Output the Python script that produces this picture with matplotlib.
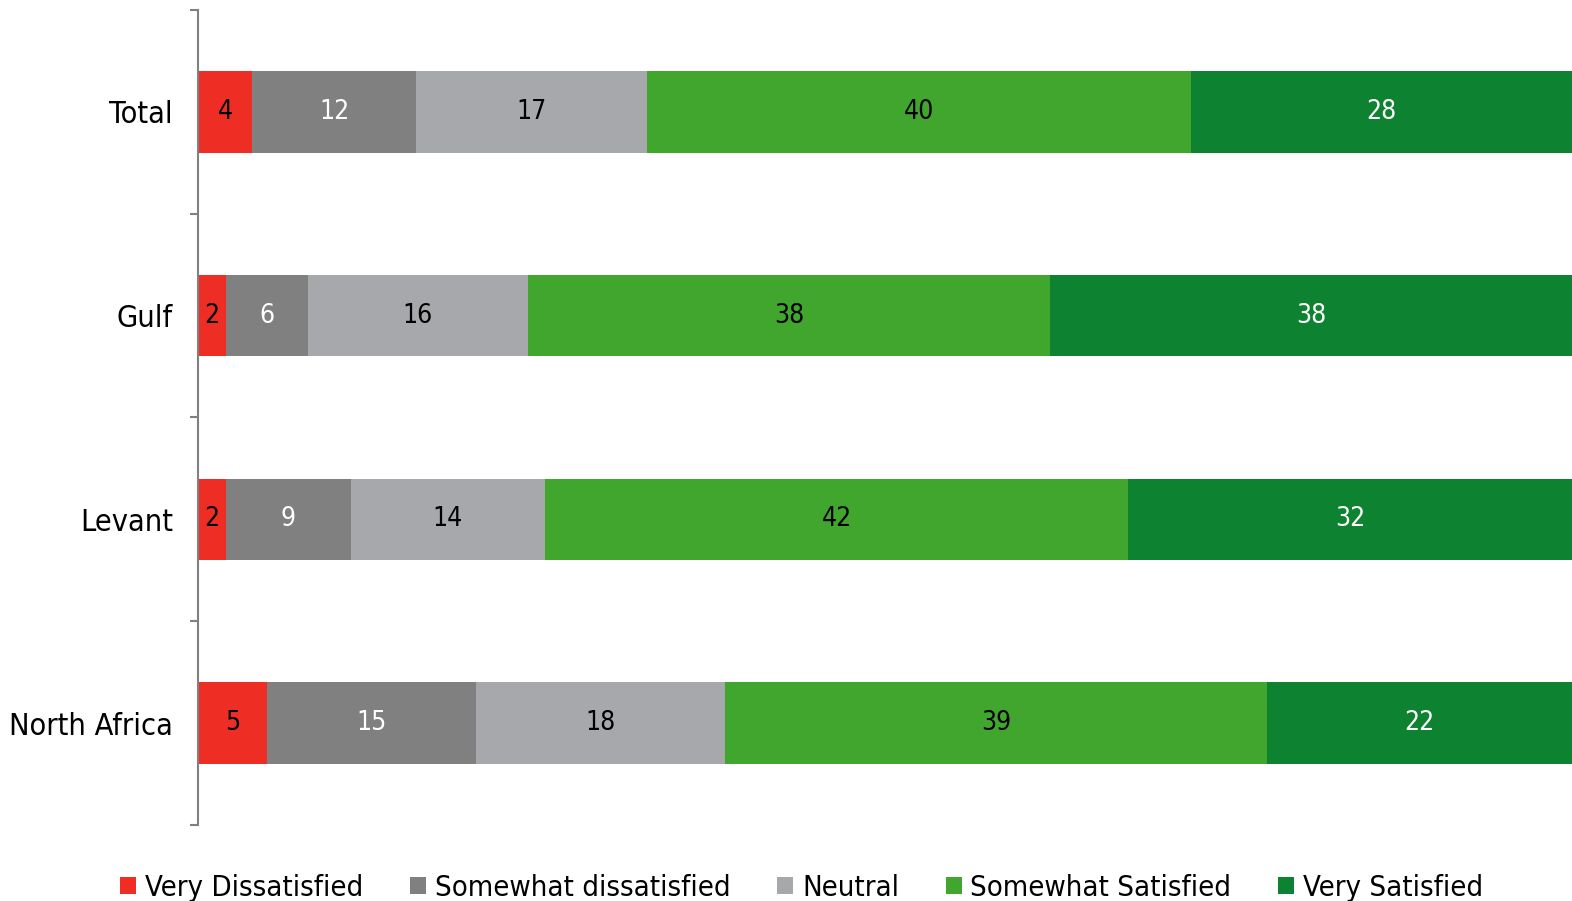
import pandas as pd
import matplotlib.pyplot as plt
from matplotlib import font_manager

# --------------------------------------------------
# Data
# --------------------------------------------------
regions = ["Total", "Gulf", "Levant", "North Africa"]
very_dissatisfied = [4, 2, 2, 5]
somewhat_dissatisfied = [12, 6, 9, 15]
neutral = [17, 16, 14, 18]
somewhat_satisfied = [40, 38, 42, 39]
very_satisfied = [28, 38, 32, 22]

series_names = ["Very Dissatisfied", "Somewhat dissatisfied", "Neutral",
                "Somewhat Satisfied", "Very Satisfied"]
colors = ["#ee2e24", "#808080", "#a7a8ab", "#41a62e", "#0d8230"]
text_colors = ["black", "white", "black", "black", "white"]

df = pd.DataFrame(
    [very_dissatisfied, somewhat_dissatisfied, neutral,
     somewhat_satisfied, very_satisfied],
    index=series_names, columns=regions).T

# bars fill the row: share of each row's total
shares = df.div(df.sum(axis=1), axis=0) * 100

# --------------------------------------------------
# Font: want something narrow
# --------------------------------------------------
fonts = font_manager.fontManager.ttflist
names = {f.name for f in fonts}
scale = 1.0
if "Liberation Sans Narrow" in names:
    plt.rcParams["font.family"] = ["Liberation Sans Narrow", "DejaVu Sans"]
elif any(f.name == "DejaVu Sans" and f.stretch in ("condensed", 300)
         for f in fonts):
    plt.rcParams["font.family"] = ["DejaVu Sans"]
    plt.rcParams["font.stretch"] = "condensed"
else:
    plt.rcParams["font.family"] = ["DejaVu Sans"]
    scale = 0.82

# --------------------------------------------------
# Plot
# --------------------------------------------------
fig = plt.figure(figsize=(15.72, 9.01), dpi=100)
ax = fig.add_axes([0.126, 0.0844, 0.874, 0.9045])

left = pd.Series(0.0, index=regions)
for name, color, tcolor in zip(series_names, colors, text_colors):
    bars = ax.barh(regions, shares[name], left=left, height=0.4,
                   color=color, label=name)
    ax.bar_label(bars, labels=[str(v) for v in df[name]], label_type="center",
                 color=tcolor, fontsize=19 * scale)
    left = left + shares[name]

ax.set_xlim(0, 100)
ax.set_ylim(3.5, -0.5)

ax.set_yticks(range(len(regions)))
ax.set_yticklabels(regions, fontsize=22 * scale)
ax.set_yticks([-0.5, 0.5, 1.5, 2.5, 3.5], minor=True)
ax.tick_params(axis="y", which="major", length=0, pad=18)
ax.tick_params(axis="y", which="minor", length=6, color="#808080", width=1.5)
ax.set_xticks([])

for side in ["top", "right", "bottom"]:
    ax.spines[side].set_visible(False)
ax.spines["left"].set_color("#808080")
ax.spines["left"].set_linewidth(1.5)

fig.legend(loc="lower center", bbox_to_anchor=(0.51, -0.03), ncol=5,
           frameon=False, fontsize=21 * scale, handlelength=0.55,
           handleheight=0.55, handletextpad=0.3, columnspacing=1.6)

plt.savefig("out.png", dpi=100)
